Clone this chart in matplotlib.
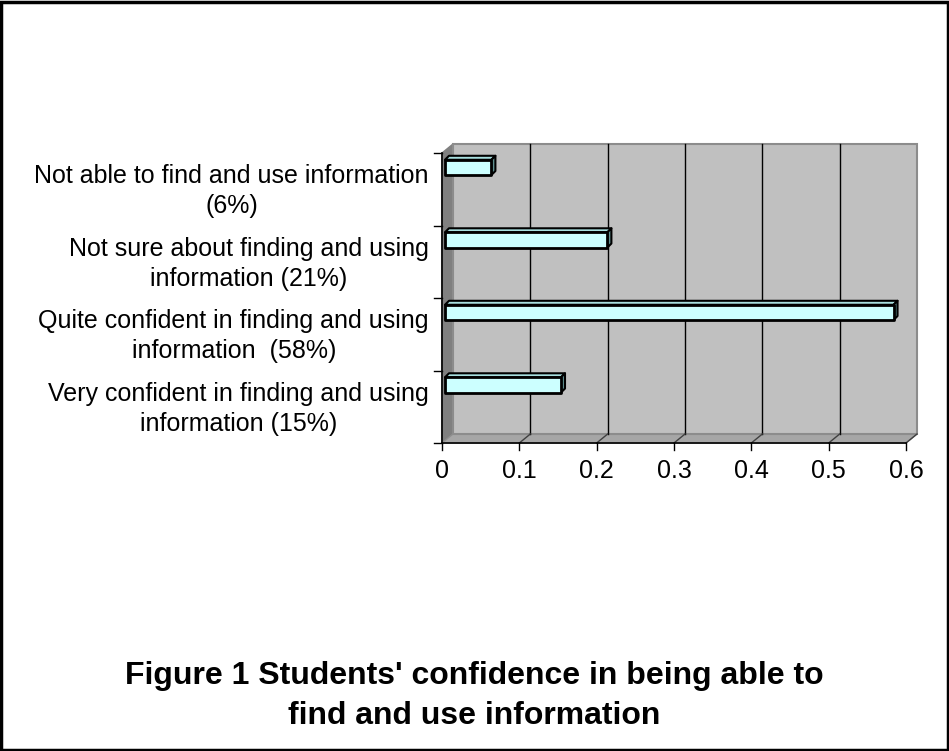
import matplotlib.pyplot as plt
import matplotlib.transforms as mtransforms
from matplotlib.patches import Polygon, Rectangle

# Survey results (share of students)
labels = [
    "Very confident in finding and using\ninformation (15%)",
    "Quite confident in finding and using\ninformation  (58%)",
    "Not sure about finding and using\ninformation (21%)",
    "Not able to find and use information\n(6%)",
]
values = [0.15, 0.58, 0.21, 0.06]
xticks = [0, 0.1, 0.2, 0.3, 0.4, 0.5, 0.6]
title = "Figure 1 Students' confidence in being able to\nfind and use information"

plt.rcParams["font.family"] = ["Liberation Sans", "DejaVu Sans"]

W, H = 949, 751
fig = plt.figure(figsize=(W / 100, H / 100), dpi=100)

# front plane of the 3-D box
ax = fig.add_axes([442 / W, 1 - 443 / H, 464 / W, 290 / H])
ax.set_xlim(0, 0.6)
ax.set_ylim(0, len(values))
ax.axis("off")


def shifted(dx, dy):
    # depth offset in pixels (dy positive = up)
    return ax.transData + mtransforms.ScaledTranslation(dx / 100, dy / 100, fig.dpi_scale_trans)


DX, DY = 11, 9
xmax, ymax = 0.6, len(values)
back = shifted(DX, DY)
px = ax.transData.transform

# side wall
sw_pts = [px((0, 0)), px((0, ymax)), back.transform((0, ymax)), back.transform((0, 0))]
ax.add_patch(Polygon(sw_pts, closed=True, transform=None, facecolor="#808080",
                     edgecolor="#808080", lw=1, clip_on=False, zorder=1))
# floor
fl_pts = [px((0, 0)), px((xmax, 0)), back.transform((xmax, 0)), back.transform((0, 0))]
ax.add_patch(Polygon(fl_pts, closed=True, transform=None, facecolor="#a6a6a6",
                     edgecolor="#909090", lw=1, clip_on=False, zorder=1))
# back wall
ax.add_patch(Rectangle((0, 0), xmax, ymax, transform=back, facecolor="#c0c0c0",
                       edgecolor="#8c8c8c", lw=1.5, clip_on=False, zorder=1))

# gridlines on the back wall and on the floor
for t in xticks[1:-1]:
    ax.plot([t, t], [0, ymax], color="black", lw=1, transform=back, clip_on=False, zorder=2)
for t in xticks[1:]:
    p0 = px((t, 0))
    p1 = back.transform((t, 0))
    ax.plot([p0[0], p1[0]], [p0[1], p1[1]], color="#404040", lw=1, transform=None,
            clip_on=False, zorder=2)

# axis lines and ticks
ax.plot([0, xmax], [0, 0], color="black", lw=1.2, clip_on=False, zorder=3)
ax.plot([0, 0], [0, ymax], color="black", lw=1.2, clip_on=False, zorder=3)
label_shift = ax.transData + mtransforms.ScaledTranslation(0, -0.16, fig.dpi_scale_trans)
for t in xticks:
    p0 = px((t, 0))
    ax.plot([p0[0], p0[0]], [p0[1], p0[1] - 7], color="black", lw=1, transform=None,
            clip_on=False, zorder=3)
    ax.text(t, 0, f"{t:g}", transform=label_shift, ha="center", va="top", fontsize=18)
for i in range(ymax + 1):
    p0 = px((0, i))
    ax.plot([p0[0] - 8, p0[0]], [p0[1], p0[1]], color="black", lw=1, transform=None,
            clip_on=False, zorder=3)

# category labels
cat_shift = ax.transData + mtransforms.ScaledTranslation(-0.13, -0.02, fig.dpi_scale_trans)
for i, lab in enumerate(labels):
    ax.text(0, i + 0.5, lab, transform=cat_shift, ha="right", va="center",
            multialignment="center", fontsize=18, linespacing=1.32)

# bars with a shallow 3-D look
bh = 0.21
fdx, fdy = 3, 3
bdx, bdy = 4, 4
front = shifted(fdx, fdy)
rear = shifted(fdx + bdx, fdy + bdy)
for i, v in enumerate(values):
    yc = i + 0.76
    y0, y1 = yc - bh / 2, yc + bh / 2
    f = [front.transform(p) for p in [(0, y0), (v, y0), (v, y1), (0, y1)]]
    r = [rear.transform(p) for p in [(0, y0), (v, y0), (v, y1), (0, y1)]]
    top = [f[3], f[2], r[2], r[3]]
    right = [f[1], r[1], r[2], f[2]]
    ax.add_patch(Polygon(top, closed=True, transform=None, facecolor="#a8e0e0",
                         edgecolor="black", lw=1.5, joinstyle="round", clip_on=False, zorder=4))
    ax.add_patch(Polygon(right, closed=True, transform=None, facecolor="#5f8f8f",
                         edgecolor="black", lw=1.5, joinstyle="round", clip_on=False, zorder=4))
    ax.add_patch(Polygon(f, closed=True, transform=None, facecolor="#ccffff",
                         edgecolor="black", lw=2, joinstyle="round", clip_on=False, zorder=5))

fig.text(474 / W, 1 - 696 / H, title, ha="center", va="center", fontsize=23,
         fontweight="bold", linespacing=1.42)

# outer frame
fig.add_artist(Rectangle((0.001, 0.001), 0.998, 0.997, transform=fig.transFigure,
                         fill=False, edgecolor="black", lw=2.5))

fig.savefig("out.png", dpi=100)
